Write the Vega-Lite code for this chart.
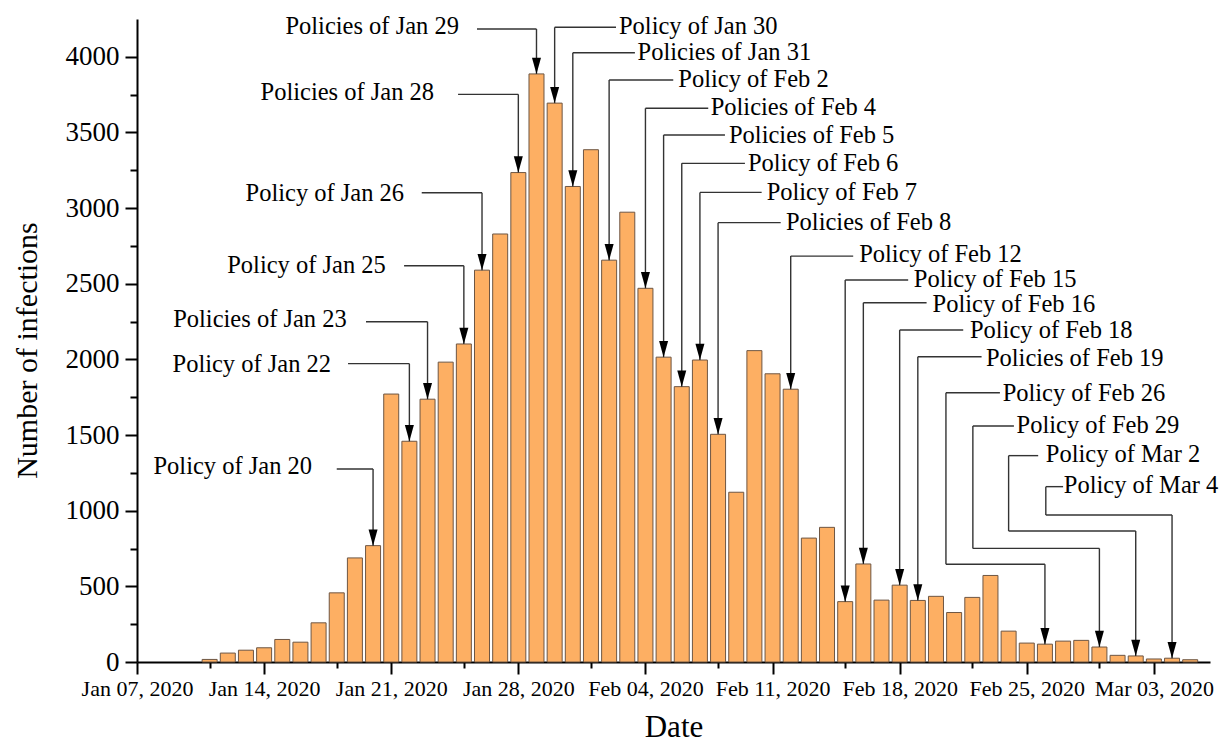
{
  "$schema": "https://vega.github.io/schema/vega-lite/v6.json",
  "width": 1073,
  "height": 643,
  "autosize": {"type": "none"},
  "padding": {"left": 137, "top": 19, "right": 12, "bottom": 82},
  "config": {"view": {"stroke": null}, "font": "Liberation Serif"},
  "datasets": {
    "bars": [
      {"date": "2020-01-11T00:00", "value": 17},
      {"date": "2020-01-12T00:00", "value": 59},
      {"date": "2020-01-13T00:00", "value": 78},
      {"date": "2020-01-14T00:00", "value": 94},
      {"date": "2020-01-15T00:00", "value": 149},
      {"date": "2020-01-16T00:00", "value": 131},
      {"date": "2020-01-17T00:00", "value": 259},
      {"date": "2020-01-18T00:00", "value": 457},
      {"date": "2020-01-19T00:00", "value": 688},
      {"date": "2020-01-20T00:00", "value": 769, "policy": "Policy of Jan 20"},
      {"date": "2020-01-21T00:00", "value": 1771},
      {"date": "2020-01-22T00:00", "value": 1459, "policy": "Policy of Jan 22"},
      {"date": "2020-01-23T00:00", "value": 1737, "policy": "Policies of Jan 23"},
      {"date": "2020-01-24T00:00", "value": 1982},
      {"date": "2020-01-25T00:00", "value": 2102, "policy": "Policy of Jan 25"},
      {"date": "2020-01-26T00:00", "value": 2590, "policy": "Policy of Jan 26"},
      {"date": "2020-01-27T00:00", "value": 2829},
      {"date": "2020-01-28T00:00", "value": 3235, "policy": "Policies of Jan 28"},
      {"date": "2020-01-29T00:00", "value": 3887, "policy": "Policies of Jan 29"},
      {"date": "2020-01-30T00:00", "value": 3694, "policy": "Policy of Jan 30"},
      {"date": "2020-01-31T00:00", "value": 3143, "policy": "Policies of Jan 31"},
      {"date": "2020-02-01T00:00", "value": 3386},
      {"date": "2020-02-02T00:00", "value": 2656, "policy": "Policy of Feb 2"},
      {"date": "2020-02-03T00:00", "value": 2973},
      {"date": "2020-02-04T00:00", "value": 2470, "policy": "Policies of Feb 4"},
      {"date": "2020-02-05T00:00", "value": 2015, "policy": "Policies of Feb 5"},
      {"date": "2020-02-06T00:00", "value": 1820, "policy": "Policy of Feb 6"},
      {"date": "2020-02-07T00:00", "value": 1996, "policy": "Policy of Feb 7"},
      {"date": "2020-02-08T00:00", "value": 1505, "policy": "Policies of Feb 8"},
      {"date": "2020-02-09T00:00", "value": 1122},
      {"date": "2020-02-10T00:00", "value": 2058},
      {"date": "2020-02-11T00:00", "value": 1905},
      {"date": "2020-02-12T00:00", "value": 1803, "policy": "Policy of Feb 12"},
      {"date": "2020-02-13T00:00", "value": 819},
      {"date": "2020-02-14T00:00", "value": 890},
      {"date": "2020-02-15T00:00", "value": 399, "policy": "Policy of Feb 15"},
      {"date": "2020-02-16T00:00", "value": 648, "policy": "Policy of Feb 16"},
      {"date": "2020-02-17T00:00", "value": 409},
      {"date": "2020-02-18T00:00", "value": 508, "policy": "Policy of Feb 18"},
      {"date": "2020-02-19T00:00", "value": 407, "policy": "Policies of Feb 19"},
      {"date": "2020-02-20T00:00", "value": 434},
      {"date": "2020-02-21T00:00", "value": 327},
      {"date": "2020-02-22T00:00", "value": 427},
      {"date": "2020-02-23T00:00", "value": 572},
      {"date": "2020-02-24T00:00", "value": 204},
      {"date": "2020-02-25T00:00", "value": 125},
      {"date": "2020-02-26T00:00", "value": 118, "policy": "Policy of Feb 26"},
      {"date": "2020-02-27T00:00", "value": 138},
      {"date": "2020-02-28T00:00", "value": 143},
      {"date": "2020-02-29T00:00", "value": 99, "policy": "Policy of Feb 29"},
      {"date": "2020-03-01T00:00", "value": 44},
      {"date": "2020-03-02T00:00", "value": 40, "policy": "Policy of Mar 2"},
      {"date": "2020-03-03T00:00", "value": 20},
      {"date": "2020-03-04T00:00", "value": 25, "policy": "Policy of Mar 4"},
      {"date": "2020-03-05T00:00", "value": 15}
    ],
    "segs": [
      {"x1": "2020-01-18T00:00", "x2": "2020-01-20T00:00", "y1": 1276, "y2": 1276},
      {"x1": "2020-01-20T00:00", "x2": "2020-01-20T00:00", "y1": 1276, "y2": 769},
      {"x1": "2020-01-18T14:55", "x2": "2020-01-22T00:00", "y1": 1972, "y2": 1972},
      {"x1": "2020-01-22T00:00", "x2": "2020-01-22T00:00", "y1": 1972, "y2": 1459},
      {"x1": "2020-01-19T14:40", "x2": "2020-01-23T00:00", "y1": 2249, "y2": 2249},
      {"x1": "2020-01-23T00:00", "x2": "2020-01-23T00:00", "y1": 2249, "y2": 1737},
      {"x1": "2020-01-21T17:00", "x2": "2020-01-25T00:00", "y1": 2619, "y2": 2619},
      {"x1": "2020-01-25T00:00", "x2": "2020-01-25T00:00", "y1": 2619, "y2": 2102},
      {"x1": "2020-01-22T16:20", "x2": "2020-01-26T00:00", "y1": 3102, "y2": 3102},
      {"x1": "2020-01-26T00:00", "x2": "2020-01-26T00:00", "y1": 3102, "y2": 2590},
      {"x1": "2020-01-24T16:20", "x2": "2020-01-28T00:00", "y1": 3752, "y2": 3752},
      {"x1": "2020-01-28T00:00", "x2": "2020-01-28T00:00", "y1": 3752, "y2": 3235},
      {"x1": "2020-01-25T17:20", "x2": "2020-01-29T00:00", "y1": 4184, "y2": 4184},
      {"x1": "2020-01-29T00:00", "x2": "2020-01-29T00:00", "y1": 4184, "y2": 3887},
      {"x1": "2020-01-30T00:00", "x2": "2020-02-02T09:05", "y1": 4195, "y2": 4195},
      {"x1": "2020-01-30T00:00", "x2": "2020-01-30T00:00", "y1": 4195, "y2": 3694},
      {"x1": "2020-01-31T00:00", "x2": "2020-02-03T10:05", "y1": 4027, "y2": 4027},
      {"x1": "2020-01-31T00:00", "x2": "2020-01-31T00:00", "y1": 4027, "y2": 3143},
      {"x1": "2020-02-02T00:00", "x2": "2020-02-05T12:45", "y1": 3847, "y2": 3847},
      {"x1": "2020-02-02T00:00", "x2": "2020-02-02T00:00", "y1": 3847, "y2": 2656},
      {"x1": "2020-02-04T00:00", "x2": "2020-02-07T11:00", "y1": 3660, "y2": 3660},
      {"x1": "2020-02-04T00:00", "x2": "2020-02-04T00:00", "y1": 3660, "y2": 2470},
      {"x1": "2020-02-05T00:00", "x2": "2020-02-08T09:05", "y1": 3483, "y2": 3483},
      {"x1": "2020-02-05T00:00", "x2": "2020-02-05T00:00", "y1": 3483, "y2": 2015},
      {"x1": "2020-02-06T00:00", "x2": "2020-02-09T11:30", "y1": 3296, "y2": 3296},
      {"x1": "2020-02-06T00:00", "x2": "2020-02-06T00:00", "y1": 3296, "y2": 1820},
      {"x1": "2020-02-07T00:00", "x2": "2020-02-10T09:35", "y1": 3104, "y2": 3104},
      {"x1": "2020-02-07T00:00", "x2": "2020-02-07T00:00", "y1": 3104, "y2": 1996},
      {"x1": "2020-02-08T00:00", "x2": "2020-02-11T10:45", "y1": 2904, "y2": 2904},
      {"x1": "2020-02-08T00:00", "x2": "2020-02-08T00:00", "y1": 2904, "y2": 1505},
      {"x1": "2020-02-12T00:00", "x2": "2020-02-15T10:35", "y1": 2683, "y2": 2683},
      {"x1": "2020-02-12T00:00", "x2": "2020-02-12T00:00", "y1": 2683, "y2": 1803},
      {"x1": "2020-02-15T00:00", "x2": "2020-02-18T11:15", "y1": 2525, "y2": 2525},
      {"x1": "2020-02-15T00:00", "x2": "2020-02-15T00:00", "y1": 2525, "y2": 399},
      {"x1": "2020-02-16T00:00", "x2": "2020-02-19T11:35", "y1": 2375, "y2": 2375},
      {"x1": "2020-02-16T00:00", "x2": "2020-02-16T00:00", "y1": 2375, "y2": 648},
      {"x1": "2020-02-18T00:00", "x2": "2020-02-21T12:00", "y1": 2194, "y2": 2194},
      {"x1": "2020-02-18T00:00", "x2": "2020-02-18T00:00", "y1": 2194, "y2": 508},
      {"x1": "2020-02-19T00:00", "x2": "2020-02-22T12:15", "y1": 2018, "y2": 2018},
      {"x1": "2020-02-19T00:00", "x2": "2020-02-19T00:00", "y1": 2018, "y2": 407},
      {"x1": "2020-02-20T13:10", "x2": "2020-02-23T12:30", "y1": 1780, "y2": 1780},
      {"x1": "2020-02-20T13:10", "x2": "2020-02-20T13:10", "y1": 1780, "y2": 646},
      {"x1": "2020-02-20T13:10", "x2": "2020-02-26T00:00", "y1": 646, "y2": 646},
      {"x1": "2020-02-26T00:00", "x2": "2020-02-26T00:00", "y1": 646, "y2": 118},
      {"x1": "2020-02-22T00:45", "x2": "2020-02-24T07:00", "y1": 1560, "y2": 1560},
      {"x1": "2020-02-22T00:45", "x2": "2020-02-22T00:45", "y1": 1560, "y2": 751},
      {"x1": "2020-02-22T00:45", "x2": "2020-02-29T00:00", "y1": 751, "y2": 751},
      {"x1": "2020-02-29T00:00", "x2": "2020-02-29T00:00", "y1": 751, "y2": 99},
      {"x1": "2020-02-24T00:00", "x2": "2020-02-25T15:05", "y1": 1364, "y2": 1364},
      {"x1": "2020-02-24T00:00", "x2": "2020-02-24T00:00", "y1": 1364, "y2": 866},
      {"x1": "2020-02-24T00:00", "x2": "2020-03-02T00:00", "y1": 866, "y2": 866},
      {"x1": "2020-03-02T00:00", "x2": "2020-03-02T00:00", "y1": 866, "y2": 40},
      {"x1": "2020-02-26T01:10", "x2": "2020-02-27T00:00", "y1": 1159, "y2": 1159},
      {"x1": "2020-02-26T01:10", "x2": "2020-02-26T01:10", "y1": 1159, "y2": 972},
      {"x1": "2020-02-26T01:10", "x2": "2020-03-04T00:00", "y1": 972, "y2": 972},
      {"x1": "2020-03-04T00:00", "x2": "2020-03-04T00:00", "y1": 972, "y2": 25}
    ],
    "labels": [
      {"text": "Policy of Jan 20", "side": "L", "x": "2020-01-16T15:20", "y": 1291},
      {"text": "Policy of Jan 22", "side": "L", "x": "2020-01-17T16:30", "y": 1963},
      {"text": "Policies of Jan 23", "side": "L", "x": "2020-01-18T13:10", "y": 2260},
      {"text": "Policy of Jan 25", "side": "L", "x": "2020-01-20T16:50", "y": 2617},
      {"text": "Policy of Jan 26", "side": "L", "x": "2020-01-21T17:00", "y": 3093},
      {"text": "Policies of Jan 28", "side": "L", "x": "2020-01-23T08:40", "y": 3761},
      {"text": "Policies of Jan 29", "side": "L", "x": "2020-01-24T17:30", "y": 4197},
      {"text": "Policy of Jan 30", "side": "R", "x": "2020-02-02T13:00", "y": 4197},
      {"text": "Policies of Jan 31", "side": "R", "x": "2020-02-03T13:40", "y": 4023},
      {"text": "Policy of Feb 2", "side": "R", "x": "2020-02-05T19:25", "y": 3847},
      {"text": "Policies of Feb 4", "side": "R", "x": "2020-02-07T14:10", "y": 3662},
      {"text": "Policies of Feb 5", "side": "R", "x": "2020-02-08T14:25", "y": 3476},
      {"text": "Policy of Feb 6", "side": "R", "x": "2020-02-09T15:30", "y": 3290},
      {"text": "Policy of Feb 7", "side": "R", "x": "2020-02-10T16:10", "y": 3103},
      {"text": "Policies of Feb 8", "side": "R", "x": "2020-02-11T17:45", "y": 2904},
      {"text": "Policy of Feb 12", "side": "R", "x": "2020-02-15T18:30", "y": 2688},
      {"text": "Policy of Feb 15", "side": "R", "x": "2020-02-18T18:45", "y": 2522},
      {"text": "Policy of Feb 16", "side": "R", "x": "2020-02-19T19:25", "y": 2360},
      {"text": "Policy of Feb 18", "side": "R", "x": "2020-02-21T20:50", "y": 2185},
      {"text": "Policies of Feb 19", "side": "R", "x": "2020-02-22T18:00", "y": 2005},
      {"text": "Policy of Feb 26", "side": "R", "x": "2020-02-23T16:05", "y": 1772},
      {"text": "Policy of Feb 29", "side": "R", "x": "2020-02-24T10:35", "y": 1563},
      {"text": "Policy of Mar 2", "side": "R", "x": "2020-02-26T01:10", "y": 1366},
      {"text": "Policy of Mar 4", "side": "R", "x": "2020-02-27T01:00", "y": 1161}
    ]
  },
  "layer": [
    {
      "data": {"name": "bars"},
      "mark": {"type": "bar", "size": 15, "fill": "#FDAF63", "stroke": "#6e5643", "strokeWidth": 1},
      "encoding": {
        "x": {
          "field": "date", "type": "temporal",
          "scale": {"domain": [{"year": 2020, "month": "jan", "date": 7}, {"year": 2020, "month": "mar", "date": 6, "hours": 2, "minutes": 10}], "nice": false, "padding": 0},
          "axis": {
            "title": "Date",
            "titleFontSize": 31, "titleFontWeight": "normal", "titleColor": "black", "titlePadding": 13,
            "values": [
              {"year": 2020, "month": "jan", "date": 7}, {"year": 2020, "month": "jan", "date": 11},
              {"year": 2020, "month": "jan", "date": 14}, {"year": 2020, "month": "jan", "date": 18},
              {"year": 2020, "month": "jan", "date": 21}, {"year": 2020, "month": "jan", "date": 25},
              {"year": 2020, "month": "jan", "date": 28}, {"year": 2020, "month": "feb", "date": 1},
              {"year": 2020, "month": "feb", "date": 4}, {"year": 2020, "month": "feb", "date": 8},
              {"year": 2020, "month": "feb", "date": 11}, {"year": 2020, "month": "feb", "date": 15},
              {"year": 2020, "month": "feb", "date": 18}, {"year": 2020, "month": "feb", "date": 22},
              {"year": 2020, "month": "feb", "date": 25}, {"year": 2020, "month": "feb", "date": 29},
              {"year": 2020, "month": "mar", "date": 3}
            ],
            "labelExpr": "day(datum.value) == 2 ? timeFormat(datum.value, '%b %d, %Y') : ''",
            "tickSize": {"condition": {"test": "day(datum.value) == 2", "value": 12}, "value": 6},
            "labelFontSize": 22, "labelColor": "black", "labelPadding": 4,
            "labelOverlap": false, "labelFlush": false,
            "domainColor": "black", "domainWidth": 2, "tickColor": "black", "tickWidth": 2, "grid": false
          }
        },
        "y": {
          "field": "value", "type": "quantitative",
          "scale": {"domain": [0, 4250], "nice": false, "padding": 0},
          "axis": {
            "title": "Number of infections",
            "titleFontSize": 30, "titleFontWeight": "normal", "titleColor": "black", "titlePadding": 23,
            "titleY": 331,
            "values": [0, 250, 500, 750, 1000, 1250, 1500, 1750, 2000, 2250, 2500, 2750, 3000, 3250, 3500, 3750, 4000],
            "format": "d",
            "labelExpr": "datum.value % 500 == 0 ? datum.label : ''",
            "tickSize": {"condition": {"test": "datum.value % 500 == 0", "value": 12}, "value": 7},
            "labelFontSize": 27, "labelColor": "black", "labelPadding": 6,
            "labelOverlap": false,
            "domainColor": "black", "domainWidth": 2, "tickColor": "black", "tickWidth": 2, "grid": false
          }
        }
      }
    },
    {
      "data": {"name": "segs"},
      "mark": {"type": "rule", "color": "#333333", "strokeWidth": 1.4},
      "encoding": {
        "x": {"field": "x1", "type": "temporal", "scale": {"domain": [{"year": 2020, "month": "jan", "date": 7}, {"year": 2020, "month": "mar", "date": 6, "hours": 2, "minutes": 10}], "nice": false, "padding": 0}},
        "x2": {"field": "x2"},
        "y": {"field": "y1", "type": "quantitative", "scale": {"domain": [0, 4250], "nice": false, "padding": 0}},
        "y2": {"field": "y2"}
      }
    },
    {
      "data": {"name": "bars"},
      "transform": [{"filter": "isValid(datum.policy)"}],
      "mark": {"type": "point", "shape": "M-1,-3.6L1,-3.6L0,0Z", "size": 81, "filled": true, "color": "black", "opacity": 1, "strokeWidth": 0},
      "encoding": {
        "x": {"field": "date", "type": "temporal", "scale": {"domain": [{"year": 2020, "month": "jan", "date": 7}, {"year": 2020, "month": "mar", "date": 6, "hours": 2, "minutes": 10}], "nice": false, "padding": 0}},
        "y": {"field": "value", "type": "quantitative", "scale": {"domain": [0, 4250], "nice": false, "padding": 0}}
      }
    },
    {
      "data": {"name": "labels"},
      "transform": [{"filter": "datum.side == 'L'"}],
      "mark": {"type": "text", "align": "right", "baseline": "middle", "fontSize": 24.5, "color": "black"},
      "encoding": {
        "x": {"field": "x", "type": "temporal", "scale": {"domain": [{"year": 2020, "month": "jan", "date": 7}, {"year": 2020, "month": "mar", "date": 6, "hours": 2, "minutes": 10}], "nice": false, "padding": 0}},
        "y": {"field": "y", "type": "quantitative", "scale": {"domain": [0, 4250], "nice": false, "padding": 0}},
        "text": {"field": "text"}
      }
    },
    {
      "data": {"name": "labels"},
      "transform": [{"filter": "datum.side == 'R'"}],
      "mark": {"type": "text", "align": "left", "baseline": "middle", "fontSize": 24.5, "color": "black"},
      "encoding": {
        "x": {"field": "x", "type": "temporal", "scale": {"domain": [{"year": 2020, "month": "jan", "date": 7}, {"year": 2020, "month": "mar", "date": 6, "hours": 2, "minutes": 10}], "nice": false, "padding": 0}},
        "y": {"field": "y", "type": "quantitative", "scale": {"domain": [0, 4250], "nice": false, "padding": 0}},
        "text": {"field": "text"}
      }
    }
  ]
}
